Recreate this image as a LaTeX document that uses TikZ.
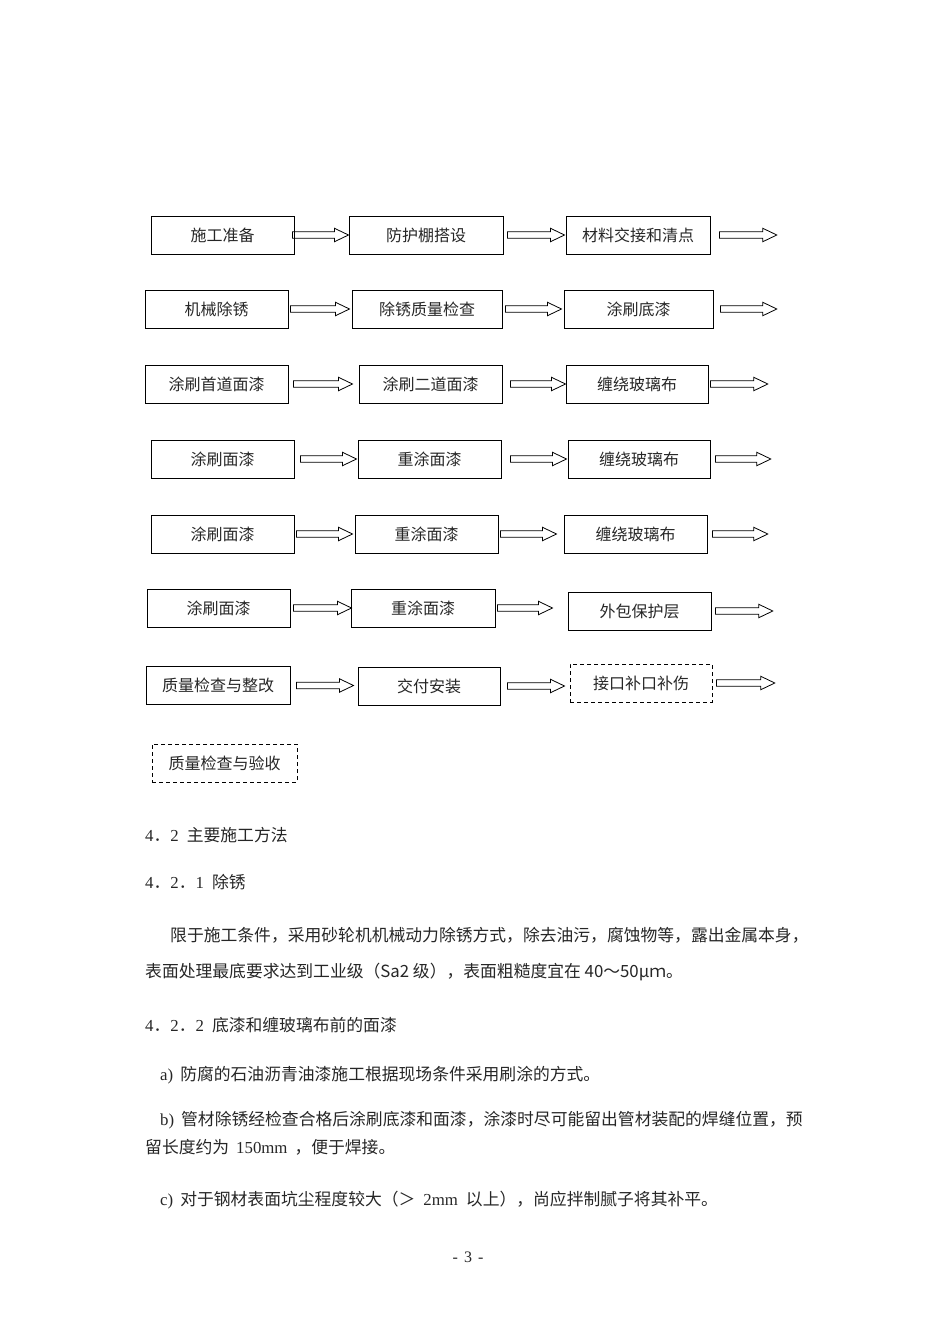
\documentclass[tikz,border=0pt]{standalone}
\usepackage{fontspec}
\setmainfont{Liberation Serif}
\newfontfamily\cjk{Noto Sans CJK SC}
\usetikzlibrary{calc}

\begin{document}
\begin{tikzpicture}[
        x=1pt, y=-1pt,
        stage/.style={draw, line width=1pt, minimum height=38pt, inner sep=0pt, text=black!85,
            font=\cjk\fontsize{16}{19}\selectfont},
        pending/.style={stage, dash pattern=on 4pt off 3pt},
        tip/.style={inner sep=0pt, minimum size=0pt},
        hollow/.style 2 args={draw, line width=0.8pt,
            to path={let \p1=(\tikztostart.east), \p2=(\tikztotarget.west) in
                (\x1+#1pt,\y1+3.3pt) -- (\x2-#2pt-14pt,\y1+3.3pt) -- (\x2-#2pt-14pt,\y1+6.7pt)
                -- (\x2-#2pt,\y1) -- (\x2-#2pt-14pt,\y1-6.7pt) -- (\x2-#2pt-14pt,\y1-3.3pt)
                -- (\x1+#1pt,\y1-3.3pt) -- cycle}},
        para/.style={anchor=west, inner sep=0pt, text=black!85, font=\cjk\fontsize{16.8}{20}\selectfont},
    ]
    \useasboundingbox (0,0) rectangle (950,1344);

        % Draw the stages, row by row
        \foreach \name/\x/\w/\txt in {1/222.5/143/施工准备, 2/426/154/防护棚搭设, 3/638/144/材料交接和清点}
            \node[stage, minimum width=\w pt] (A-\name) at (\x,235) {\txt};
        \foreach \name/\x/\w/\txt in {1/216.5/143/机械除锈, 2/427/150/除锈质量检查, 3/638.5/149/涂刷底漆}
            \node[stage, minimum width=\w pt] (B-\name) at (\x,309) {\txt};
        \foreach \name/\x/\w/\txt in {1/216.5/143/涂刷首道面漆, 2/430.5/143/涂刷二道面漆, 3/637/142/缠绕玻璃布}
            \node[stage, minimum width=\w pt] (C-\name) at (\x,384) {\txt};
        \foreach \name/\x/\w/\txt in {1/222.5/143/涂刷面漆, 2/429.5/143/重涂面漆, 3/639/142/缠绕玻璃布}
            \node[stage, minimum width=\w pt] (D-\name) at (\x,459) {\txt};
        \foreach \name/\x/\w/\txt in {1/222.5/143/涂刷面漆, 2/426.5/143/重涂面漆, 3/635.5/143/缠绕玻璃布}
            \node[stage, minimum width=\w pt] (E-\name) at (\x,534) {\txt};
        \foreach \name/\x/\y/\w/\txt in {1/218.5/608/143/涂刷面漆, 2/423/608/144/重涂面漆, 3/639.5/611/143/外包保护层}
            \node[stage, minimum width=\w pt] (F-\name) at (\x,\y) {\txt};
        \foreach \name/\x/\y/\w/\txt in {1/218/685.5/144/质量检查与整改, 2/429/686/142/交付安装}
            \node[stage, minimum width=\w pt] (G-\name) at (\x,\y) {\txt};

        % Stages still open
        \node[pending, minimum width=142pt] (G-3) at (641,683) {接口补口补伤};
        \node[pending, minimum width=145pt] (H-1) at (224.5,763) {质量检查与验收};

        % Free ends of the last arrow of each row
        \foreach \row/\x/\y in {A/777/235, B/777/309, C/768/384, D/771/459, E/768/534, F/773/608, G/775/683}
            \node[tip] (\row-end) at (\x,\y) {};

        % Connect the stages of each row
        \foreach \a/\b/\s/\e in {A-1/A-2/-2/0, A-2/A-3/4/1, A-3/A-end/9/0,
                B-1/B-2/2/2, B-2/B-3/3/2, B-3/B-end/7/0,
                C-1/C-2/5/6, C-2/C-3/8/0, C-3/C-end/2/0,
                D-1/D-2/6/1, D-2/D-3/9/1, D-3/D-end/5/0,
                E-1/E-2/2/2, E-2/E-3/2/7, E-3/E-end/5/0,
                F-1/F-2/3/-1, F-2/F-3/2/15, F-3/F-end/4/0,
                G-1/G-2/6/4, G-2/G-3/7/5, G-3/G-end/4/0}
            \draw[hollow={\s}{\e}] (\a) to (\b);

        % Text of the page
        \node[para] (sec-1) at (145,835) {{\rmfamily 4}．{\rmfamily 2}\hspace{8pt}主要施工方法};
        \node[para] (sec-11) at (145,882) {{\rmfamily 4}．{\rmfamily 2}．{\rmfamily 1}\hspace{8pt}除锈};
        \node[para] (par-1a) at (170,935) {限于施工条件，采用砂轮机机械动力除锈方式，除去油污，腐蚀物等，露出金属本身，};
        \node[para] (par-1b) at (145,972) {表面处理最底要求达到工业级（Sa2 级），表面粗糙度宜在 40～50μｍ。};
        \node[para] (sec-12) at (145,1025) {{\rmfamily 4}．{\rmfamily 2}．{\rmfamily 2}\hspace{8pt}底漆和缠玻璃布前的面漆};
        \node[para] (par-a) at (160,1075) {{\rmfamily a)}\hspace{7pt}防腐的石油沥青油漆施工根据现场条件采用刷涂的方式。};
        \node[para] (par-b1) at (160,1120) {{\rmfamily b)}\hspace{7pt}管材除锈经检查合格后涂刷底漆和面漆，涂漆时尽可能留出管材装配的焊缝位置，预};
        \node[para] (par-b2) at (145,1147) {留长度约为\hspace{7pt}{\rmfamily 150mm}\hspace{7pt}，便于焊接。};
        \node[para] (par-c) at (160,1200) {{\rmfamily c)}\hspace{7pt}对于钢材表面坑尘程度较大（＞\hspace{8pt}{\rmfamily 2mm}\hspace{8pt}以上），尚应拌制腻子将其补平。};
        \node[para, anchor=center, font=\rmfamily\fontsize{16}{18}\selectfont] (page) at (468,1257) {-\hspace{6pt}3\hspace{6pt}-};
\end{tikzpicture}
\end{document}
